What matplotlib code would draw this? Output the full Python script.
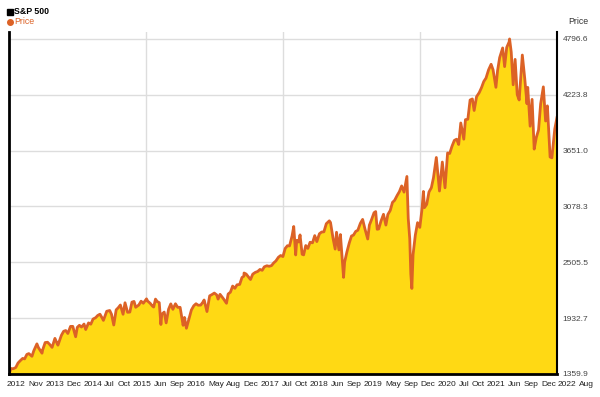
import numpy as np
import pandas as pd
import matplotlib
matplotlib.use("Agg")
import matplotlib.pyplot as plt
from matplotlib.lines import Line2D

plt.rcParams['font.family'] = ['Liberation Sans', 'DejaVu Sans']

# S&P 500 closes (roughly twice a month plus notable highs/lows)
dates = [
    "2012-11-16", "2012-11-30", "2012-12-14", "2012-12-31",
    "2013-01-15", "2013-01-31", "2013-02-15", "2013-02-28", "2013-03-15", "2013-03-28",
    "2013-04-18", "2013-04-30", "2013-05-21", "2013-05-31", "2013-06-24", "2013-06-28",
    "2013-07-15", "2013-07-31", "2013-08-15", "2013-08-30", "2013-09-18", "2013-09-30",
    "2013-10-08", "2013-10-31", "2013-11-15", "2013-11-29", "2013-12-13", "2013-12-31",
    "2014-01-15", "2014-02-03", "2014-02-14", "2014-02-28", "2014-03-14", "2014-03-31",
    "2014-04-11", "2014-04-30", "2014-05-15", "2014-05-30", "2014-06-16", "2014-06-30",
    "2014-07-15", "2014-07-31", "2014-08-07", "2014-08-29", "2014-09-18", "2014-09-30",
    "2014-10-15", "2014-10-31", "2014-11-14", "2014-11-28", "2014-12-16", "2014-12-29",
    "2015-01-15", "2015-01-30", "2015-02-13", "2015-02-27", "2015-03-10", "2015-03-31",
    "2015-04-15", "2015-04-30", "2015-05-21", "2015-05-29", "2015-06-15", "2015-06-29",
    "2015-07-08", "2015-07-20", "2015-07-31", "2015-08-14", "2015-08-25", "2015-08-31",
    "2015-09-16", "2015-09-29", "2015-10-15", "2015-10-30", "2015-11-13", "2015-11-30",
    "2015-12-15", "2015-12-31",
    "2016-01-20", "2016-01-29", "2016-02-11", "2016-02-29", "2016-03-15", "2016-03-31",
    "2016-04-15", "2016-04-29", "2016-05-16", "2016-05-31", "2016-06-08", "2016-06-27",
    "2016-07-15", "2016-07-29", "2016-08-15", "2016-08-31", "2016-09-09", "2016-09-22",
    "2016-10-14", "2016-11-04", "2016-11-15", "2016-11-30", "2016-12-15", "2016-12-30",
    "2017-01-13", "2017-01-31", "2017-02-15", "2017-02-28", "2017-03-01", "2017-03-15",
    "2017-04-13", "2017-04-28", "2017-05-15", "2017-05-31", "2017-06-15", "2017-06-30",
    "2017-07-14", "2017-07-31", "2017-08-15", "2017-08-31", "2017-09-15", "2017-09-29",
    "2017-10-16", "2017-10-31", "2017-11-15", "2017-11-30", "2017-12-15", "2017-12-29",
    "2018-01-15", "2018-01-26", "2018-02-08", "2018-02-15", "2018-02-28", "2018-03-09",
    "2018-03-23", "2018-04-02", "2018-04-16", "2018-04-30", "2018-05-15", "2018-05-31",
    "2018-06-15", "2018-06-29", "2018-07-16", "2018-07-31", "2018-08-15", "2018-08-31",
    "2018-09-20", "2018-09-28", "2018-10-15", "2018-10-29", "2018-11-07", "2018-11-23",
    "2018-12-03", "2018-12-24", "2018-12-31",
    "2019-01-15", "2019-01-31", "2019-02-15", "2019-02-28", "2019-03-15", "2019-03-29",
    "2019-04-15", "2019-04-30", "2019-05-15", "2019-06-03", "2019-06-14", "2019-06-28",
    "2019-07-15", "2019-07-26", "2019-08-05", "2019-08-15", "2019-08-30", "2019-09-16",
    "2019-10-02", "2019-10-15", "2019-10-31", "2019-11-15", "2019-11-29", "2019-12-16",
    "2019-12-31",
    "2020-01-15", "2020-01-31", "2020-02-19", "2020-02-28", "2020-03-09", "2020-03-16",
    "2020-03-23", "2020-03-31", "2020-04-15", "2020-04-30", "2020-05-15", "2020-05-29",
    "2020-06-08", "2020-06-15", "2020-06-30", "2020-07-15", "2020-07-31", "2020-08-14",
    "2020-09-02", "2020-09-23", "2020-10-12", "2020-10-30", "2020-11-16", "2020-11-30",
    "2020-12-15", "2020-12-31",
    "2021-01-15", "2021-01-29", "2021-02-12", "2021-03-04", "2021-03-15", "2021-03-31",
    "2021-04-15", "2021-04-30", "2021-05-12", "2021-05-28", "2021-06-15", "2021-06-30",
    "2021-07-15", "2021-07-30", "2021-08-16", "2021-09-02", "2021-09-15", "2021-10-04",
    "2021-10-15", "2021-10-29", "2021-11-18", "2021-12-01", "2021-12-15", "2021-12-31",
    "2022-01-03", "2022-01-14", "2022-01-27", "2022-02-09", "2022-02-23", "2022-03-08",
    "2022-03-29", "2022-04-14", "2022-04-29", "2022-05-04", "2022-05-20", "2022-06-02",
    "2022-06-16", "2022-06-30", "2022-07-15", "2022-07-29", "2022-08-16", "2022-08-31",
    "2022-09-12", "2022-09-30", "2022-10-12", "2022-10-31", "2022-11-15",
]
prices = [
    1359.9, 1416.2, 1413.6, 1426.2,
    1472.3, 1498.1, 1519.8, 1514.7, 1560.7, 1569.2,
    1541.6, 1597.6, 1669.2, 1630.7, 1573.1, 1606.3,
    1682.5, 1685.7, 1661.3, 1633.0, 1725.5, 1681.6,
    1655.5, 1756.5, 1798.2, 1805.8, 1775.3, 1848.4,
    1848.4, 1741.9, 1838.6, 1859.5, 1841.1, 1872.3,
    1815.7, 1884.0, 1870.9, 1923.6, 1937.2, 1960.2,
    1973.3, 1930.7, 1909.6, 2003.4, 2011.4, 1972.3,
    1862.5, 2018.1, 2039.8, 2067.6, 1972.7, 2090.6,
    1992.7, 1995.0, 2097.0, 2104.5, 2044.2, 2067.9,
    2106.6, 2085.5, 2130.8, 2107.4, 2084.4, 2057.6,
    2046.7, 2128.3, 2103.8, 2091.5, 1867.6, 1972.2,
    1995.3, 1884.1, 2023.9, 2079.4, 2023.0, 2080.4,
    2043.4, 2043.9,
    1859.3, 1940.2, 1829.1, 1932.2, 2015.9, 2059.7,
    2080.7, 2065.3, 2066.7, 2097.0, 2119.1, 2000.5,
    2161.7, 2173.6, 2190.2, 2171.0, 2127.8, 2177.2,
    2133.0, 2085.2, 2180.4, 2198.8, 2262.0, 2238.8,
    2274.6, 2278.9, 2349.3, 2363.6, 2395.9, 2385.3,
    2329.0, 2384.2, 2402.3, 2411.8, 2432.5, 2423.4,
    2459.3, 2470.3, 2464.6, 2471.7, 2500.2, 2519.4,
    2557.6, 2575.3, 2564.6, 2647.6, 2675.8, 2673.6,
    2776.4, 2872.9, 2581.0, 2731.2, 2713.8, 2786.6,
    2588.3, 2581.9, 2677.8, 2648.1, 2711.5, 2705.3,
    2779.4, 2718.4, 2798.4, 2816.3, 2818.4, 2901.5,
    2930.8, 2914.0, 2750.8, 2641.3, 2813.9, 2632.6,
    2790.4, 2351.1, 2506.9,
    2610.3, 2704.1, 2775.6, 2784.5, 2822.5, 2834.4,
    2905.6, 2945.8, 2851.0, 2744.5, 2887.0, 2941.8,
    3014.3, 3025.9, 2844.7, 2847.6, 2926.5, 2998.0,
    2887.6, 2995.7, 3037.6, 3120.5, 3141.0, 3191.5,
    3230.8,
    3289.3, 3225.5, 3386.2, 2954.2, 2746.6, 2386.1,
    2237.4, 2584.6, 2783.4, 2912.4, 2863.7, 3044.3,
    3232.4, 3066.6, 3100.3, 3226.6, 3271.1, 3372.9,
    3580.8, 3236.9, 3534.2, 3270.0, 3626.9, 3621.6,
    3694.6, 3756.1,
    3768.3, 3714.2, 3934.8, 3768.5, 3968.9, 3972.9,
    4170.4, 4181.2, 4063.0, 4204.1, 4246.6, 4297.5,
    4360.0, 4395.3, 4479.7, 4537.0, 4480.7, 4300.5,
    4471.4, 4605.4, 4704.5, 4513.0, 4709.9, 4766.2,
    4796.6, 4662.9, 4326.5, 4587.2, 4225.5, 4170.7,
    4631.6, 4392.6, 4131.9, 4300.2, 3901.4, 4176.8,
    3666.8, 3785.4, 3863.2, 4130.3, 4305.2, 3955.0,
    4110.4, 3585.6, 3577.0, 3872.0, 3991.7,
]
xlabels = ["2012", "Nov", "2013", "Dec", "2014", "Jul", "Oct", "2015", "Jun", "Sep",
           "2016", "May", "Aug", "Dec", "2017", "Jul", "Oct", "2018", "Jun", "Sep",
           "2019", "May", "Sep", "Dec", "2020", "Jul", "Oct", "2021", "Jun", "Sep",
           "Dec", "2022", "Aug"]
ymin, ymax = 1359.9, 4796.6
yticks = np.linspace(ymin, ymax, 7)

x = pd.to_datetime(dates)
W, H = 600, 397
fig = plt.figure(figsize=(6, 3.97), dpi=100)
ax = fig.add_axes([9 / W, 1 - 374 / H, 548 / W, 342 / H])

ax.fill_between(x, prices, ymin - 100, color="#ffd914", lw=0, zorder=2)
ax.plot(x, prices, color="#dc6226", lw=2, zorder=3)
ax.set_xlim(x[0], x[-1])
ax.set_ylim(ymin, 4868)

# vertical grid at quarter points
span = x[-1] - x[0]
for k in (1, 2, 3):
    ax.axvline(x[0] + span * k / 4, color="#dddddd", lw=1, zorder=1)
ax.set_yticks(yticks)
ax.set_yticklabels([f"{v:.1f}" for v in yticks])
ax.yaxis.tick_right()
ax.grid(axis="y", color="#dddddd", lw=1, zorder=1)
ax.set_axisbelow(True)
ax.tick_params(axis="y", length=0, pad=4, labelsize=6, labelcolor="#444444")
ax.set_xticks([])
ax.spines["top"].set_visible(False)
ax.spines["left"].set_linewidth(2)
ax.spines["bottom"].set_linewidth(2)
ax.spines["right"].set_linewidth(1.5)
for s in ("left", "bottom", "right"):
    ax.spines[s].set_zorder(5)

# x labels packed along the bottom
renderer = fig.canvas.get_renderer()
texts = [fig.text(0, 1 - 384 / H, lab, fontsize=6, color="#222222", va="center")
         for lab in xlabels]
widths = [t.get_window_extent(renderer).width for t in texts]
gap = (594 - 7 - sum(widths)) / (len(texts) - 1)
pos = 7
for t, w in zip(texts, widths):
    t.set_x(pos / W)
    pos += w + gap

# legend / headers
fig.add_artist(Line2D([10 / W], [1 - 12 / H], marker="s", ms=3.8, color="black",
                      transform=fig.transFigure))
fig.add_artist(Line2D([10 / W], [1 - 22 / H], marker="o", ms=4, color="#dc6226",
                      transform=fig.transFigure))
fig.text(14.5 / W, 1 - 12 / H, "S&P 500", fontsize=6.3, fontweight="bold", va="center")
fig.text(14 / W, 1 - 22 / H, "Price", fontsize=6.3, color="#dc6226", va="center")
fig.text(578 / W, 1 - 22 / H, "Price", fontsize=6.3, color="#333333", va="center", ha="center")

fig.savefig("out.png", dpi=100)
